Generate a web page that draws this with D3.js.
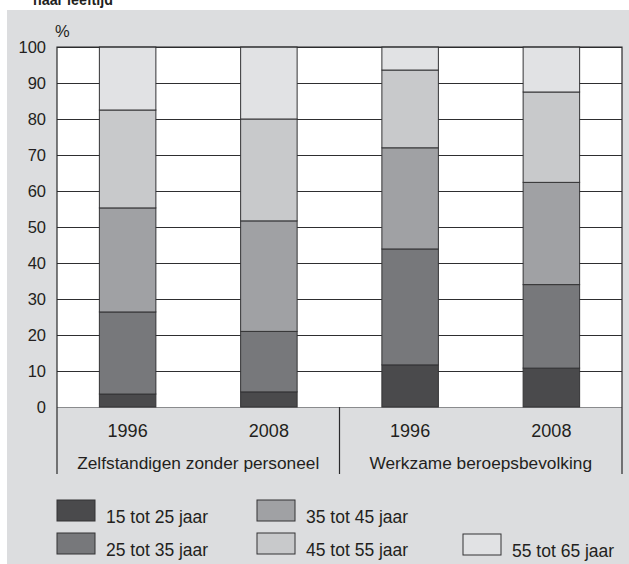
<!DOCTYPE html>
<meta charset="utf-8">
<style>
  body { margin: 0; background: #fff; }
  text { font-family: "Liberation Sans", Arial, sans-serif; fill: #231f20; }
</style>
<script src="https://d3js.org/d3.v7.min.js"></script>
<div id="chart"></div>
<script>

// Data (percentages per age group)
var ageGroups = ["15 tot 25 jaar", "25 tot 35 jaar", "35 tot 45 jaar", "45 tot 55 jaar", "55 tot 65 jaar"];
var groupColors = ["#4a4a4c", "#77787b", "#a0a1a4", "#c8c9cb", "#e1e2e4"];
var years = ["1996", "2008", "1996", "2008"];
var groups = ["Zelfstandigen zonder personeel", "Werkzame beroepsbevolking"];
var age15to25 = [3.6, 4.2, 11.7, 10.8];
var age25to35 = [22.8, 16.8, 32.2, 23.2];
var age35to45 = [28.9, 30.7, 28.1, 28.4];
var age45to55 = [27.2, 28.3, 21.6, 25.1];
var age55to65 = [17.5, 20.0, 6.4, 12.5];
var yTicks = [0, 10, 20, 30, 40, 50, 60, 70, 80, 90, 100];

var W = 629, H = 564;
var plot = {left: 57, right: 622, top: 47, bottom: 407, axisBottom: 474};

var svg = d3.select("#chart").append("svg")
    .attr("width", W)
    .attr("height", H);

// grey panel
svg.append("rect")
    .attr("x", 7).attr("y", 10)
    .attr("width", W - 7).attr("height", H - 10)
    .attr("fill", "#dcdddf");

// title, cut off at the top as in the source
svg.append("text")
    .attr("x", 33).attr("y", 5)
    .attr("font-size", "17px")
    .attr("font-weight", "bold")
    .attr("textLength", 80)
    .attr("lengthAdjust", "spacingAndGlyphs")
    .text("naar leeftijd");

// table for the stack
var table = years.map(function(yr, i) {
  var row = {key: i};
  row[ageGroups[0]] = age15to25[i];
  row[ageGroups[1]] = age25to35[i];
  row[ageGroups[2]] = age35to45[i];
  row[ageGroups[3]] = age45to55[i];
  row[ageGroups[4]] = age55to65[i];
  return row;
});

var x = d3.scaleBand()
    .domain(d3.range(years.length))
    .range([plot.left, plot.right])
    .paddingInner(0.6)
    .paddingOuter(0.3);

var y = d3.scaleLinear()
    .domain([0, 100])
    .range([plot.bottom, plot.top]);

var color = d3.scaleOrdinal().domain(ageGroups).range(groupColors);

// white plot area
svg.append("rect")
    .attr("x", plot.left).attr("y", plot.top)
    .attr("width", plot.right - plot.left)
    .attr("height", plot.bottom - plot.top)
    .attr("fill", "#fff");

// y axis with gridlines
var yAxis = svg.append("g")
    .attr("transform", "translate(" + plot.left + ",0)")
    .call(d3.axisLeft(y)
      .tickValues(yTicks)
      .tickSize(-(plot.right - plot.left))
      .tickPadding(11));
yAxis.select(".domain").remove();
yAxis.selectAll(".tick line")
    .attr("stroke", function(d) { return d === 0 ? "#8a8b8d" : "#2e2e30"; })
    .attr("stroke-width", 1.2);
yAxis.selectAll(".tick text")
    .attr("font-size", "16.5px")
    .attr("fill", "#231f20")
    .style("font-family", "'Liberation Sans', Arial, sans-serif");

svg.append("text")
    .attr("x", 55).attr("y", 37)
    .attr("font-size", "16.5px")
    .text("%");

// stacked bars
var series = d3.stack().keys(ageGroups)(table);

svg.append("g")
  .selectAll("g")
  .data(series)
  .join("g")
    .attr("fill", function(d) { return color(d.key); })
  .selectAll("rect")
  .data(function(d) { return d; })
  .join("rect")
    .attr("x", function(d) { return x(d.data.key); })
    .attr("y", function(d) { return y(d[1]); })
    .attr("width", x.bandwidth())
    .attr("height", function(d) { return y(d[0]) - y(d[1]); })
    .attr("stroke", "#333335")
    .attr("stroke-width", 1);

// frame: top, left, right
svg.append("path")
    .attr("d", "M" + plot.left + "," + plot.axisBottom + "V" + plot.top + "H" + plot.right + "V" + plot.axisBottom)
    .attr("fill", "none")
    .attr("stroke", "#2a2a2c")
    .attr("stroke-width", 1.2);

// divider between the two groups
var mid = (x(1) + x.bandwidth() + x(2)) / 2;
svg.append("line")
    .attr("x1", mid).attr("x2", mid)
    .attr("y1", plot.bottom).attr("y2", plot.axisBottom)
    .attr("stroke", "#2a2a2c")
    .attr("stroke-width", 1.2);

// year labels
svg.append("g")
  .selectAll("text")
  .data(years)
  .join("text")
    .attr("x", function(d, i) { return x(i) + x.bandwidth() / 2; })
    .attr("y", 437)
    .attr("text-anchor", "middle")
    .attr("font-size", "18px")
    .text(function(d) { return d; });

// group labels
var groupCenters = [(plot.left + mid) / 2, (mid + plot.right) / 2];
svg.append("g")
  .selectAll("text")
  .data(groups)
  .join("text")
    .attr("x", function(d, i) { return groupCenters[i]; })
    .attr("y", 469)
    .attr("text-anchor", "middle")
    .attr("font-size", "17.3px")
    .text(function(d) { return d; });

// legend
var legendPos = [
  {x: 57, y: 500}, {x: 57, y: 533},
  {x: 257, y: 500}, {x: 257, y: 533},
  {x: 463, y: 534}
];
var legend = svg.append("g")
  .selectAll("g")
  .data(ageGroups)
  .join("g")
    .attr("transform", function(d, i) { return "translate(" + legendPos[i].x + "," + legendPos[i].y + ")"; });

legend.append("rect")
    .attr("width", 38).attr("height", 21)
    .attr("fill", function(d) { return color(d); })
    .attr("stroke", "#333335")
    .attr("stroke-width", 1);

legend.append("text")
    .attr("x", 49).attr("y", 23)
    .attr("font-size", "17.5px")
    .text(function(d) { return d; });

</script>
